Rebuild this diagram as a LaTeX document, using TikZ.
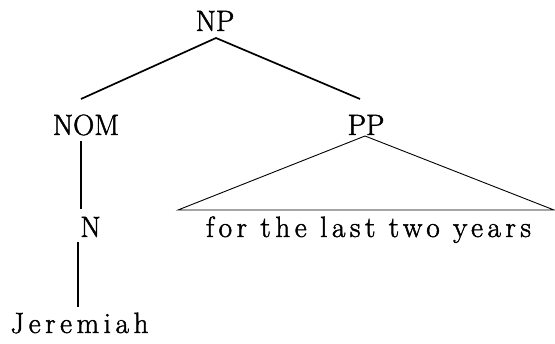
\documentclass[tikz,border=0pt]{standalone}
\usepackage{fontspec}
\setmainfont[FakeBold=1.6]{Latin Modern Roman}
\tikzset{
  lab/.style={anchor=base, inner sep=0pt, font=\fontsize{29.3}{35}\selectfont},
  leaf/.style={lab, font=\fontsize{29.3}{35}\selectfont\addfontfeatures{LetterSpace=15.5}},
  branch/.style={line width=1.7pt},
  roof/.style={line width=0.9pt, line join=miter}
}
\begin{document}
\begin{tikzpicture}[x=1pt,y=1pt]
\useasboundingbox (0,0) rectangle (555,344);
\node[lab] (np) at (215,313) {NP};
\node[lab] (nom) at (86,209) {NOM};
\node[lab] (pp) at (366,209) {PP};
\node[lab] (n) at (90.5,107) {N};
\node[leaf] (jer) at (79.5,11) {Jeremiah};
\node[leaf] (yrs) at (368.5,107) {for the last two years};
\draw[branch] ([shift={(-134pt,-68pt)}]np.base) -- ([shift={(1pt,-7pt)}]np.base) -- ([shift={(145pt,-68pt)}]np.base);
\draw[branch] ([shift={(-5pt,-6pt)}]nom.base) -- ([shift={(-9.5pt,28pt)}]n.base);
\draw[branch] ([shift={(-12.5pt,-5pt)}]n.base) -- ([shift={(-1.5pt,26pt)}]jer.base);
\draw[roof] ([shift={(-190.5pt,27pt)}]yrs.base) -- ([shift={(-1pt,-1pt)}]pp.base) -- ([shift={(185.5pt,27pt)}]yrs.base) -- cycle;
\end{tikzpicture}
\end{document}
